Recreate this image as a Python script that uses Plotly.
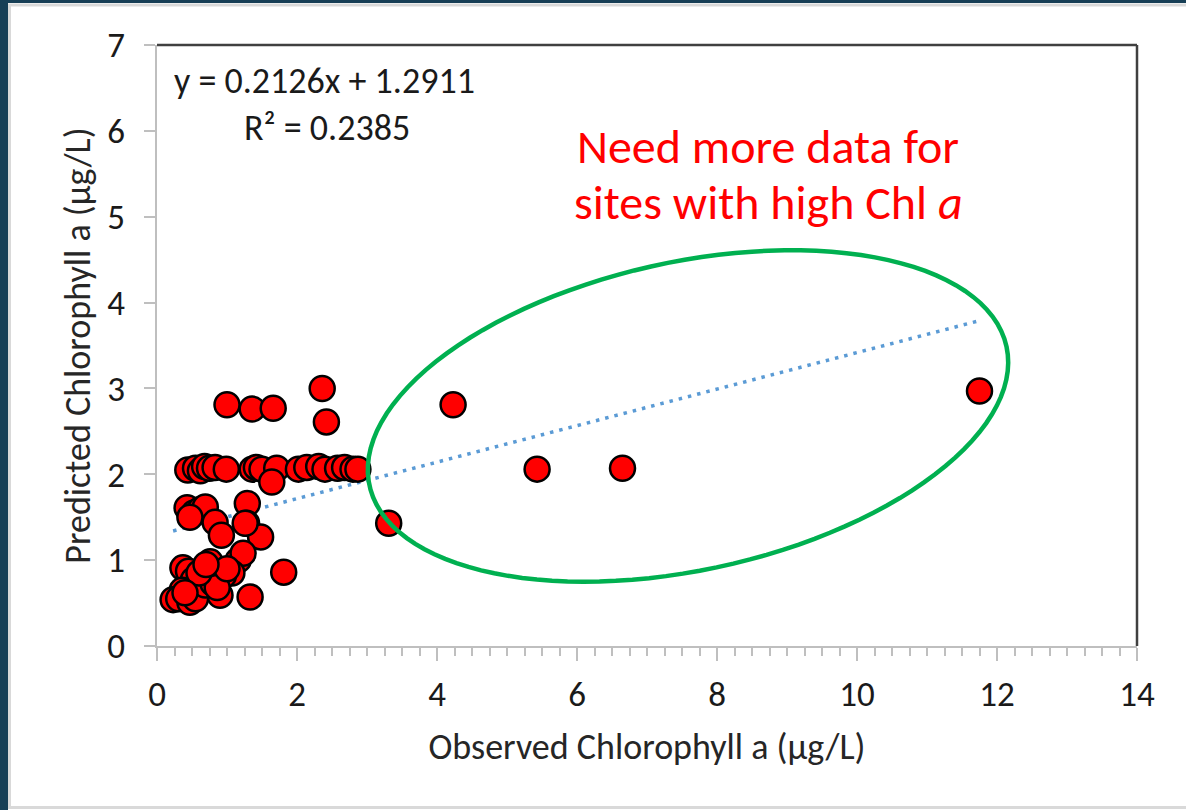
import numpy as np
import plotly.graph_objects as go

# Observed vs predicted chlorophyll a (ug/L)
obs = [11.75, 6.65, 5.43, 4.23, 3.31, 2.36, 2.42, 1.00, 1.36, 1.66,
       0.44, 0.55, 0.62, 0.68, 0.75, 0.83, 0.99, 1.36, 1.42, 1.50, 1.71,
       2.02, 2.14, 2.31, 2.40, 2.58, 2.68, 2.80, 2.87, 1.64,
       0.43, 0.53, 0.62, 0.69, 0.47, 1.29, 1.28, 0.83, 0.92, 1.48, 1.26,
       1.81, 0.76, 1.16, 1.23, 0.37, 0.45, 1.07, 0.52, 0.36, 0.90, 1.33,
       0.23, 0.31, 0.47, 0.55, 0.69, 0.80, 0.95, 0.86, 0.60, 0.40, 1.00, 0.70]
pred = [2.97, 2.07, 2.06, 2.81, 1.43, 3.00, 2.61, 2.81, 2.76, 2.77,
        2.05, 2.07, 2.04, 2.09, 2.07, 2.08, 2.06, 2.06, 2.08, 2.06, 2.07,
        2.06, 2.08, 2.09, 2.06, 2.07, 2.08, 2.06, 2.06, 1.91,
        1.61, 1.55, 1.59, 1.62, 1.50, 1.66, 1.43, 1.44, 1.29, 1.27, 1.43,
        0.86, 0.98, 1.00, 1.08, 0.91, 0.87, 0.85, 0.77, 0.65, 0.59, 0.57,
        0.54, 0.55, 0.51, 0.55, 0.71, 0.73, 0.82, 0.68, 0.85, 0.62, 0.90, 0.95]

slope = 0.2126
intercept = 1.2911
trend_x = [0.23, 11.75]
x_ticks = [0, 2, 4, 6, 8, 10, 12, 14]
y_ticks = [0, 1, 2, 3, 4, 5, 6, 7]

FONT = "Carlito, Lato, sans-serif"
W, H = 1186, 810
L, R, T, B = 157, 49, 45, 164
pw, ph = W - L - R, H - T - B


def px_x(p):
    return (p - L) / pw


def px_y(p):
    return (H - B - p) / ph


fig = go.Figure()

trend_y = [slope * v + intercept for v in trend_x]
fig.add_trace(go.Scatter(x=trend_x, y=trend_y, mode="lines",
                         line=dict(color="#5B9BD5", width=3.5, dash="3.5px,6px"),
                         hoverinfo="skip", showlegend=False))

fig.add_trace(go.Scatter(x=obs, y=pred, mode="markers",
                         marker=dict(size=25, color="#FF0000",
                                     line=dict(color="black", width=2.5)),
                         showlegend=False))

# highlight ellipse (annotation shape), defined in pixel space then mapped to data
cx, cy, a, b, th = 688, 416, 326, 154, np.deg2rad(12.3)
t = np.linspace(0, 2 * np.pi, 120)
ex = cx + a * np.cos(t) * np.cos(th) - b * np.sin(t) * np.sin(th)
ey = cy - (a * np.cos(t) * np.sin(th) + b * np.sin(t) * np.cos(th))
xs = (ex - L) / pw * 14
ys = (H - B - ey) / ph * 7
path = "M " + " L ".join(f"{u:.4f},{v:.4f}" for u, v in zip(xs, ys)) + " Z"

shapes = [
    dict(type="path", path=path, xref="x", yref="y",
         line=dict(color="#00B050", width=4.5)),
    # top and right plot border
    dict(type="line", xref="paper", yref="paper", x0=0, x1=1, y0=1, y1=1,
         line=dict(color="#404040", width=2.5)),
    dict(type="line", xref="paper", yref="paper", x0=1, x1=1, y0=0, y1=1,
         line=dict(color="#404040", width=2.5)),
    # slide frame
    dict(type="rect", xref="paper", yref="paper", x0=px_x(0), x1=px_x(8),
         y0=px_y(H), y1=px_y(0), fillcolor="#173F56", line=dict(width=0), layer="below"),
    dict(type="rect", xref="paper", yref="paper", x0=px_x(0), x1=px_x(W),
         y0=px_y(3), y1=px_y(0), fillcolor="#173F56", line=dict(width=0), layer="below"),
    dict(type="rect", xref="paper", yref="paper", x0=px_x(9.5), x1=px_x(W + 5),
         y0=px_y(807.5), y1=px_y(5), line=dict(color="#D9D9D9", width=3), layer="below"),
]

annotations = [
    dict(x=2.39, y=6.58, xref="x", yref="y", showarrow=False,
         text="y = 0.2126x + 1.2911",
         font=dict(family=FONT, size=36, color="#1a1a1a")),
    dict(x=2.43, y=6.03, xref="x", yref="y", showarrow=False,
         text="R² = 0.2385",
         font=dict(family=FONT, size=36, color="#1a1a1a")),
    dict(x=8.73, y=5.82, xref="x", yref="y", showarrow=False,
         text="Need more data for",
         font=dict(family=FONT, size=48, color="#FF0000")),
    dict(x=8.73, y=5.17, xref="x", yref="y", showarrow=False,
         text="sites with high Chl <i>a</i>",
         font=dict(family=FONT, size=48, color="#FF0000")),
]

fig.update_layout(
    width=W, height=H,
    margin=dict(l=L, r=R, t=T, b=B),
    paper_bgcolor="white", plot_bgcolor="white",
    font=dict(family=FONT, color="#1a1a1a"),
    shapes=shapes, annotations=annotations,
    xaxis=dict(range=[0, 14], tickvals=x_ticks, showgrid=False, zeroline=False,
               showline=True, linecolor="#BFBFBF", linewidth=2,
               ticks="outside", ticklen=13, tickcolor="#BFBFBF", tickwidth=2,
               minor=dict(dtick=0.25, ticks="outside", ticklen=8, tickcolor="#BFBFBF", tickwidth=1.5),
               tickfont=dict(size=35, family=FONT, color="#1a1a1a"),
               ticklabelstandoff=3,
               title=dict(text="Observed Chlorophyll a (µg/L)", standoff=20,
                          font=dict(size=36, family=FONT, color="#262626"))),
    yaxis=dict(range=[0, 7], tickvals=y_ticks, showgrid=False, zeroline=False,
               showline=True, linecolor="#BFBFBF", linewidth=2,
               ticks="outside", ticklen=11, tickcolor="#BFBFBF", tickwidth=2,
               tickfont=dict(size=35, family=FONT, color="#1a1a1a"),
               ticklabelstandoff=12,
               title=dict(text="Predicted Chlorophyll a (µg/L)", standoff=6,
                          font=dict(size=36, family=FONT, color="#262626"))),
)

fig.write_html("out.html")
